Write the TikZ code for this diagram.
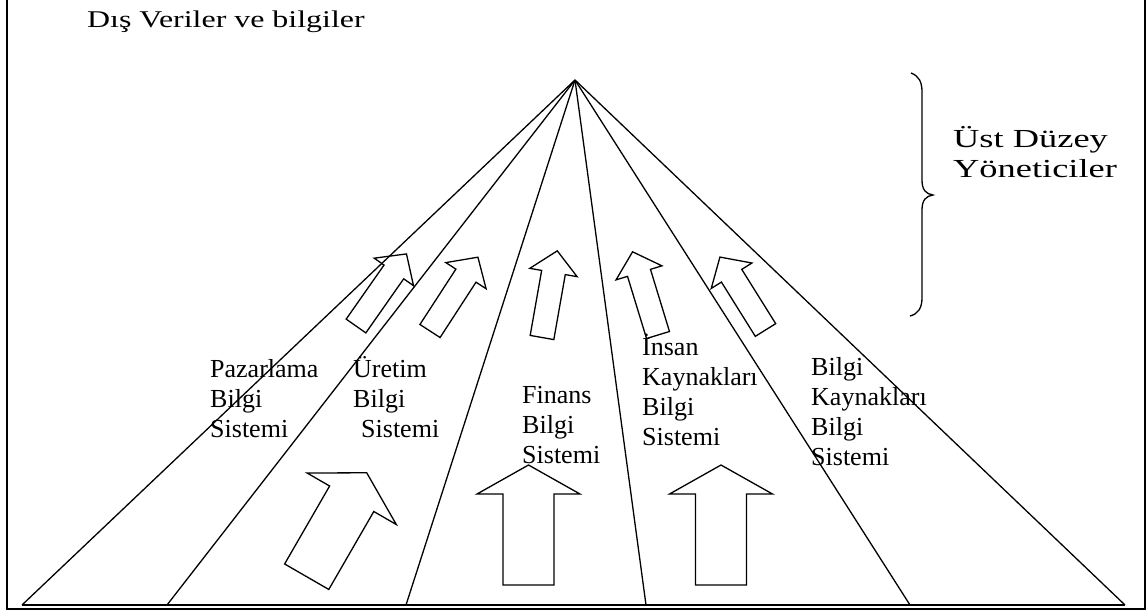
\documentclass[tikz,border=0pt]{standalone}
\usepackage{fontspec}
\setmainfont{Liberation Serif}
\newfontfamily\widefont[FakeStretch=1.4]{Liberation Serif}
\newfontfamily\headfont[FakeStretch=1.33]{Liberation Serif}
\begin{document}
\begin{tikzpicture}[x=1pt,y=-1pt,
  frameline/.style={line width=1.5pt},
  fanline/.style={line width=1.3pt},
  arrowline/.style={line width=1.3pt, line join=miter},
  bracket/.style={line width=1.3pt},
  label/.style={inner sep=0pt, anchor=base west, font=\fontsize{26}{30}\selectfont},
  pics/blockarrow/.style args={#1/#2/#3/#4}{code={
    \draw[arrowline] (-#2/2,0) -- (-#2/2,-#1) -- (-#3/2,-#1) -- (0,-#1-#4)
      -- (#3/2,-#1) -- (#2/2,-#1) -- (#2/2,0) -- cycle;}}
]
\useasboundingbox (0,0) rectangle (1148,611);

% outer frame (open at the top)
\coordinate (ftl) at (7,0);
\coordinate (fbl) at (7,609);
\coordinate (fbr) at (1145,609);
\coordinate (ftr) at (1145,0);
\draw[frameline] (ftl) -- (fbl) -- (fbr) -- (ftr);

% fan of functional areas
\coordinate (apex) at (575,80);
\coordinate (v1) at (22,605);
\coordinate (v2) at (167,605);
\coordinate (v3) at (406,605);
\coordinate (v4) at (646,605);
\coordinate (v5) at (910,605);
\coordinate (v6) at (1125,605);
\draw[fanline] (v1) -- (v6);
\foreach \v in {v1,v2,v3,v4,v5,v6}
  \draw[fanline] (apex) -- (\v);

% upper arrows
\pic[rotate=-35] (a1) at (356,326) {blockarrow=66/24/48/22};
\pic[rotate=-33] (a2) at (430,331) {blockarrow=66/24/48/22};
\pic[rotate=-10] (a3) at (542,337.5) {blockarrow=66/24/48/22};
\pic[rotate=17]  (a4) at (658,335) {blockarrow=65/24/48/22};
\pic[rotate=32]  (a5) at (765.5,330) {blockarrow=64/24/48/22};

% lower arrows
\pic[rotate=-30] (b1) at (306.7,576.7) {blockarrow=90/51/103/30};
\pic (b2) at (528.5,585) {blockarrow=91/51/103/29};
\pic (b3) at (721,585) {blockarrow=91/51/103/29};

% brace for top management
\draw[bracket] (911,73) .. controls (919,76) and (922,82) .. (922,92)
  -- (922,180) .. controls (922,190) and (926,194) .. (933,195)
  .. controls (926,196) and (922,200) .. (922,210)
  -- (922,298) .. controls (922,308) and (918,314) .. (910,316);

% texts
\node[label, font=\fontsize{24}{28}\headfont] (ext) at (87,27) {Dış Veriler ve bilgiler};
\node[label, font=\fontsize{26}{30}\widefont] (top) at (953,147)
  {\begin{tabular}[t]{@{}l@{}}Üst Düzey\\Yöneticiler\end{tabular}};
\node[label] (paz) at (210,377)
  {\begin{tabular}[t]{@{}l@{}}Pazarlama\\Bilgi\\Sistemi\end{tabular}};
\node[label] (ure) at (353,377)
  {\begin{tabular}[t]{@{}l@{}}Üretim\\Bilgi\\\hspace{8pt}Sistemi\end{tabular}};
\node[label] (fin) at (522,403)
  {\begin{tabular}[t]{@{}l@{}}Finans\\Bilgi\\Sistemi\end{tabular}};
\node[label] (ins) at (642,355)
  {\begin{tabular}[t]{@{}l@{}}İnsan\\Kaynakları\\Bilgi\\Sistemi\end{tabular}};
\node[label] (bk) at (811,375)
  {\begin{tabular}[t]{@{}l@{}}Bilgi\\Kaynakları\\Bilgi\\Sistemi\end{tabular}};
\end{tikzpicture}
\end{document}
